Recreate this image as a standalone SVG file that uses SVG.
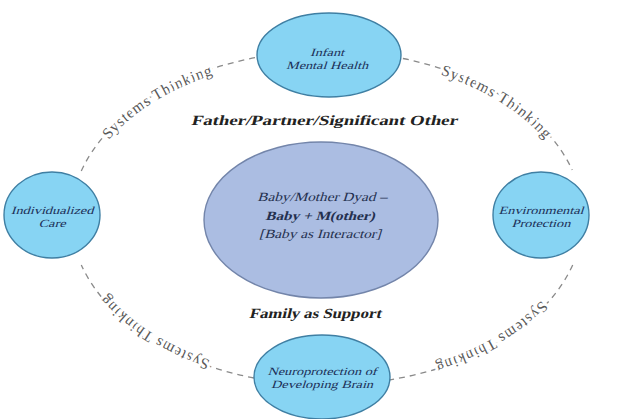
<svg xmlns="http://www.w3.org/2000/svg" width="644" height="419" viewBox="0 0 644 419">
<style>
.arc{fill:none;stroke:#8a8a8a;stroke-width:1.3;stroke-dasharray:6 5}
.arclbl{font-family:"Liberation Serif","DejaVu Serif",serif;font-size:15.5px;fill:#5a5a5a;letter-spacing:1px;stroke:#fff;stroke-width:6;stroke-linejoin:round;paint-order:stroke}
.node{fill:#87d4f3;stroke:#3f7fa3;stroke-width:1.4}
.core{fill:#abbde2;stroke:#7385aa;stroke-width:1.4}
.nt{font-family:"Liberation Serif","DejaVu Serif",serif;font-size:11px;fill:#1c3058;text-anchor:middle}
.ct{font-family:"Liberation Serif","DejaVu Serif",serif;font-size:12.5px;fill:#24304f;text-anchor:middle}
.lbl{font-family:"Liberation Serif","DejaVu Serif",serif;font-weight:bold;font-size:14px;fill:#222;text-anchor:middle}
</style>
<rect width="644" height="419" fill="#fff"/>
<g id="connectors">
<path id="a1" class="arc" d="M 81.3 171.1 A 256 167 0 0 1 257.3 57.3"/>
<path id="a2" class="arc" d="M 402.9 58.5 A 256 167 0 0 1 572.2 170"/>
<path id="a3" class="arc" d="M 572.7 264.9 A 256 167 0 0 1 388.9 380"/>
<path id="a4" class="arc" d="M 253.9 378 A 256 167 0 0 1 81.3 264.9"/>
<text class="arclbl" dominant-baseline="central"><textPath href="#a1" startOffset="49%" text-anchor="middle">Systems Thinking</textPath></text>
<text class="arclbl" dominant-baseline="central"><textPath href="#a2" startOffset="50%" text-anchor="middle">Systems Thinking</textPath></text>
<text class="arclbl" dominant-baseline="central"><textPath href="#a3" startOffset="50%" text-anchor="middle">Systems Thinking</textPath></text>
<text class="arclbl" dominant-baseline="central"><textPath href="#a4" startOffset="52%" text-anchor="middle">Systems Thinking</textPath></text>
</g>
<g id="node-infant">
<ellipse class="node" cx="329" cy="55" rx="72" ry="42"/>
<text class="nt" transform="translate(327,56) scale(1.3,1) skewX(-14)">Infant</text>
<text class="nt" transform="translate(327,69) scale(1.3,1) skewX(-14)">Mental Health</text>
</g>
<g id="node-individualized">
<ellipse class="node" cx="52" cy="215" rx="48" ry="43"/>
<text class="nt" transform="translate(52,214) scale(1.3,1) skewX(-14)">Individualized</text>
<text class="nt" transform="translate(52,227) scale(1.3,1) skewX(-14)">Care</text>
</g>
<g id="node-environmental">
<ellipse class="node" cx="541" cy="215" rx="48" ry="43"/>
<text class="nt" transform="translate(541,214) scale(1.3,1) skewX(-14)">Environmental</text>
<text class="nt" transform="translate(541,227) scale(1.3,1) skewX(-14)">Protection</text>
</g>
<g id="node-neuro">
<ellipse class="node" cx="322" cy="377" rx="68" ry="42"/>
<text class="nt" transform="translate(322,375) scale(1.3,1) skewX(-14)">Neuroprotection of</text>
<text class="nt" transform="translate(322,388) scale(1.3,1) skewX(-14)">Developing Brain</text>
</g>
<g id="node-dyad">
<ellipse class="core" cx="321" cy="220" rx="117" ry="78"/>
<text class="ct" transform="translate(322,201) scale(1.22,1) skewX(-14)">Baby/Mother Dyad –</text>
<text class="ct" font-weight="bold" transform="translate(320,220) scale(1.22,1) skewX(-14)">Baby + M(other)</text>
<text class="ct" transform="translate(320,238) scale(1.22,1) skewX(-14)">[Baby as Interactor]</text>
</g>
<g id="label-father">
<text class="lbl" transform="translate(324,125) skewX(-14)" textLength="266" lengthAdjust="spacingAndGlyphs">Father/Partner/Significant Other</text>
</g>
<g id="label-family">
<text class="lbl" transform="translate(315,318) skewX(-14)" textLength="132" lengthAdjust="spacingAndGlyphs">Family as Support</text>
</g>
</svg>
